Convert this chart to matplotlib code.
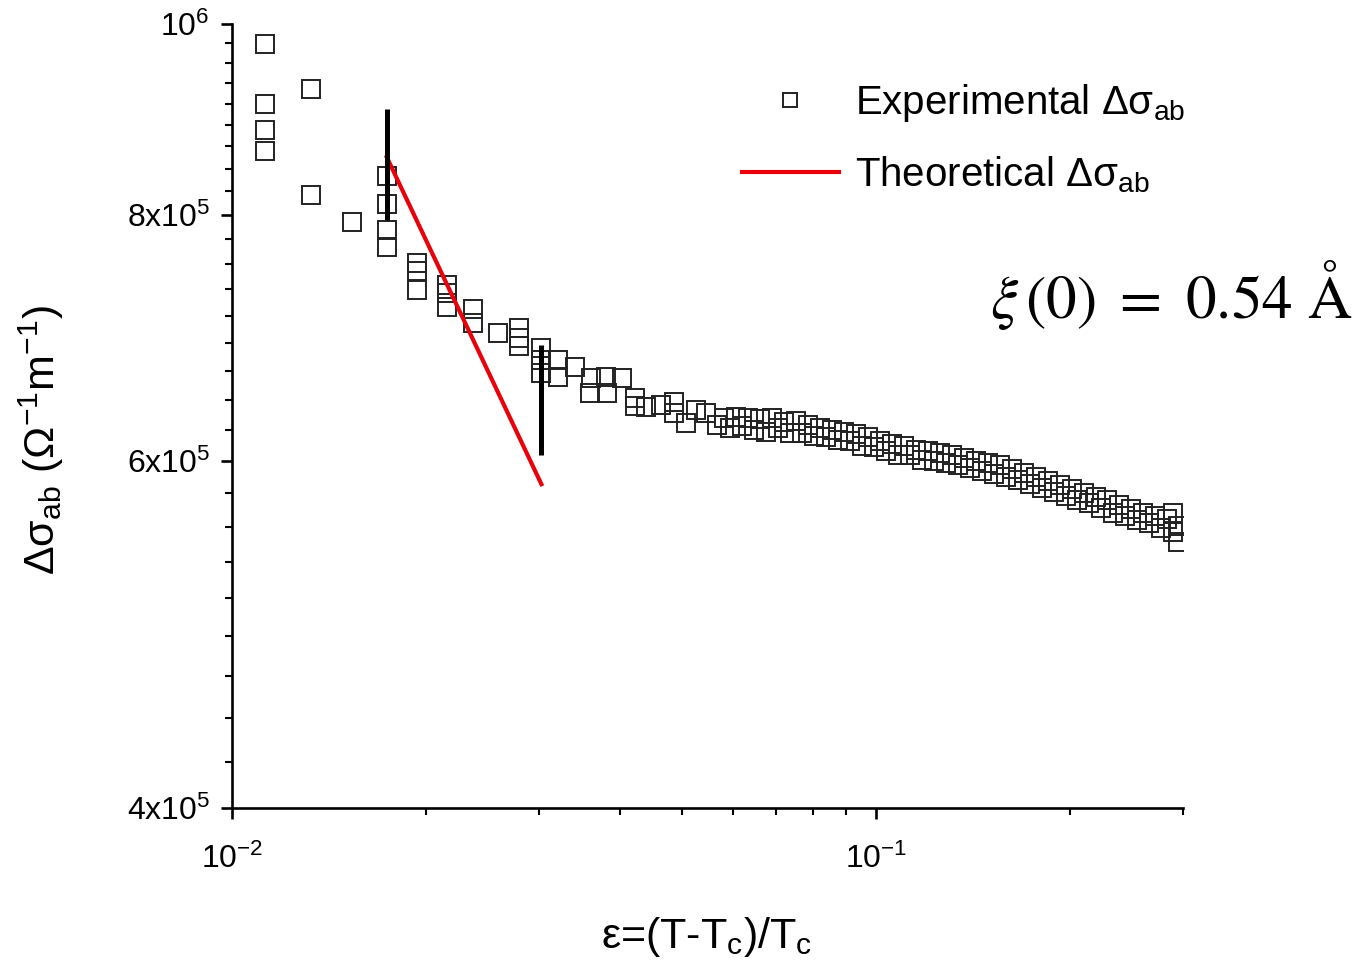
import numpy as np
import matplotlib.pyplot as plt
from matplotlib.ticker import FixedLocator, NullFormatter

plt.rcParams['font.family'] = ['Liberation Sans', 'DejaVu Sans']
plt.rcParams['mathtext.fontset'] = 'custom'
plt.rcParams['mathtext.rm'] = 'Liberation Sans'
plt.rcParams['mathtext.it'] = 'Liberation Sans:italic'

# experimental points (eps, delta sigma_ab)
eps_exp = [
    0.01125, 0.01125, 0.01125, 0.01125, 0.01326, 0.01326, 0.01535,
    0.01739, 0.01739, 0.01739, 0.01739, 0.01936, 0.01936, 0.01936,
    0.02154, 0.02154, 0.02154, 0.02364, 0.02364, 0.02585,
    0.02796, 0.02796, 0.02796, 0.03024, 0.03024, 0.03024,
    0.03214, 0.03214, 0.03414, 0.03615, 0.03596, 0.03814, 0.03827,
    0.04039, 0.04231, 0.04231, 0.04399, 0.04642, 0.04862, 0.04862,
    0.05075, 0.05261, 0.05452, 0.0567,
    0.05813, 0.05939, 0.06068, 0.06199, 0.06333, 0.06470, 0.06610,
    0.06753, 0.06899, 0.07049, 0.07201, 0.07357, 0.07516, 0.07679,
    0.07845, 0.08015, 0.08188, 0.08365, 0.08546, 0.08731, 0.08920,
    0.09113, 0.09310, 0.09512, 0.09718, 0.09928, 0.1014, 0.1036,
    0.1059, 0.1082, 0.1105, 0.1129, 0.1153, 0.1178, 0.1204, 0.1230,
    0.1257, 0.1284, 0.1312, 0.1340, 0.1369, 0.1399, 0.1429, 0.1460,
    0.1492, 0.1524, 0.1557, 0.1591, 0.1625, 0.1660, 0.1696, 0.1733,
    0.1771, 0.1809, 0.1848, 0.1888, 0.1929, 0.1971, 0.2014, 0.2057,
    0.2102, 0.2147, 0.2194, 0.2241, 0.2290, 0.2339, 0.2390, 0.2442,
    0.2495, 0.2549, 0.2604, 0.2660, 0.2718, 0.2777, 0.2837, 0.2898,
    0.2898, 0.295, 0.295,
]
sigma_exp = [
    9.77e5, 9.11e5, 8.83e5, 8.62e5, 9.27e5, 8.19e5, 7.93e5,
    8.37e5, 8.10e5, 7.86e5, 7.71e5, 7.56e5, 7.49e5, 7.33e5,
    7.37e5, 7.30e5, 7.18e5, 7.17e5, 7.05e5, 6.97e5,
    7.01e5, 6.93e5, 6.86e5, 6.85e5, 6.75e5, 6.65e5,
    6.75e5, 6.62e5, 6.70e5, 6.61e5, 6.50e5, 6.62e5, 6.50e5,
    6.61e5, 6.46e5, 6.40e5, 6.39e5, 6.41e5, 6.43e5, 6.35e5,
    6.27e5, 6.37e5, 6.35e5, 6.26e5,
    6.31e5, 6.24e5, 6.32e5, 6.25e5, 6.31e5, 6.22e5, 6.30e5,
    6.21e5, 6.31e5, 6.24e5, 6.28e5, 6.20e5, 6.29e5, 6.20e5,
    6.26e5, 6.18e5, 6.24e5, 6.17e5, 6.22e5, 6.15e5, 6.21e5,
    6.14e5, 6.19e5, 6.11e5, 6.17e5, 6.10e5, 6.14e5, 6.07e5,
    6.12e5, 6.04e5, 6.11e5, 6.04e5, 6.08e5, 6.01e5, 6.07e5, 6.00e5,
    6.06e5, 5.99e5, 6.04e5, 5.97e5, 6.02e5, 5.95e5, 6.00e5, 5.93e5,
    5.99e5, 5.91e5, 5.97e5, 5.89e5, 5.945e5, 5.87e5, 5.92e5, 5.84e5,
    5.89e5, 5.815e5, 5.86e5, 5.79e5, 5.835e5, 5.76e5, 5.81e5, 5.73e5,
    5.78e5, 5.71e5, 5.75e5, 5.68e5, 5.73e5, 5.65e5, 5.70e5, 5.63e5,
    5.67e5, 5.60e5, 5.65e5, 5.58e5, 5.63e5, 5.55e5, 5.61e5, 5.52e5,
    5.65e5, 5.46e5, 5.56e5,
]

# theoretical fit line
eps_theo = [0.01739, 0.03024]
sigma_theo = [8.56e5, 5.84e5]

# fit window markers
eps_bars = [0.01739, 0.03024]
bar_low = [7.95e5, 6.04e5]
bar_high = [9.05e5, 6.87e5]

y_major = [4e5, 6e5, 8e5, 1e6]
y_major_labels = ['4x10$^{5}$', '6x10$^{5}$', '8x10$^{5}$', '10$^{6}$']

fig = plt.figure(figsize=(13.58, 9.61), dpi=100)
ax = fig.add_axes([232 / 1358, 1 - 808 / 961, 951 / 1358, 784 / 961])

ax.plot(eps_exp, sigma_exp, ls='none', marker='s', ms=13, mfc='none',
        mec='#222222', mew=1.4, label='Experimental Δσ$_{\\mathrm{ab}}$')
ax.plot(eps_theo, sigma_theo, color='#e8000b', lw=3,
        label='Theoretical Δσ$_{\\mathrm{ab}}$')
ax.vlines(eps_bars, bar_low, bar_high, color='black', lw=3.6)

ax.set_xscale('log')
ax.set_yscale('log')
ax.set_xlim(0.01, 0.3)
ax.set_ylim(4e5, 1e6)

ax.yaxis.set_major_locator(FixedLocator(y_major))
ax.set_yticklabels(y_major_labels)
y_minor = []
for lo, hi in zip(y_major[:-1], y_major[1:]):
    y_minor += list(np.linspace(lo, hi, 10)[1:-1])
ax.yaxis.set_minor_locator(FixedLocator(y_minor))
ax.yaxis.set_minor_formatter(NullFormatter())

ax.xaxis.set_major_locator(FixedLocator([0.01, 0.1]))
ax.set_xticklabels(['10$^{-2}$', '10$^{-1}$'])
ax.xaxis.set_minor_locator(FixedLocator([k * 0.01 for k in range(2, 10)] + [0.2, 0.3]))
ax.xaxis.set_minor_formatter(NullFormatter())

for side in ['top', 'right']:
    ax.spines[side].set_visible(False)
for side in ['left', 'bottom']:
    ax.spines[side].set_linewidth(1.9)

ax.tick_params(which='major', direction='out', length=8, width=1.9, labelsize=23)
ax.tick_params(which='minor', direction='out', length=5, width=1.5)
ax.tick_params(axis='x', which='major', pad=18)
ax.tick_params(axis='y', which='major', pad=8)

ax.set_xlabel('ε=(T-T$_{\\mathrm{c}}$)/T$_{\\mathrm{c}}$', fontsize=31)
ax.xaxis.set_label_coords(0.4995, -0.137)
ax.set_ylabel('Δσ$_{\\mathrm{ab}}$ (Ω$^{\\mathrm{-1}}$m$^{\\mathrm{-1}}$)', fontsize=31)
ax.yaxis.set_label_coords(-0.175, 0.469)

ax.legend(loc='upper left', bbox_to_anchor=(742 / 1358, 1 - 82 / 961),
          bbox_transform=fig.transFigure, frameon=False, fontsize=29,
          handlelength=2.4, handletextpad=0.4, borderpad=0, borderaxespad=0,
          labelspacing=0.75, markerscale=0.8)

ax.text(1352 / 1358, 1 - 295 / 961, '$\\xi\\,(0)\\ =\\ 0.54\\ \\mathrm{Å}$',
        transform=fig.transFigure, ha='right', va='center', fontsize=44,
        math_fontfamily='stix')

fig.savefig('out.png', dpi=100)
